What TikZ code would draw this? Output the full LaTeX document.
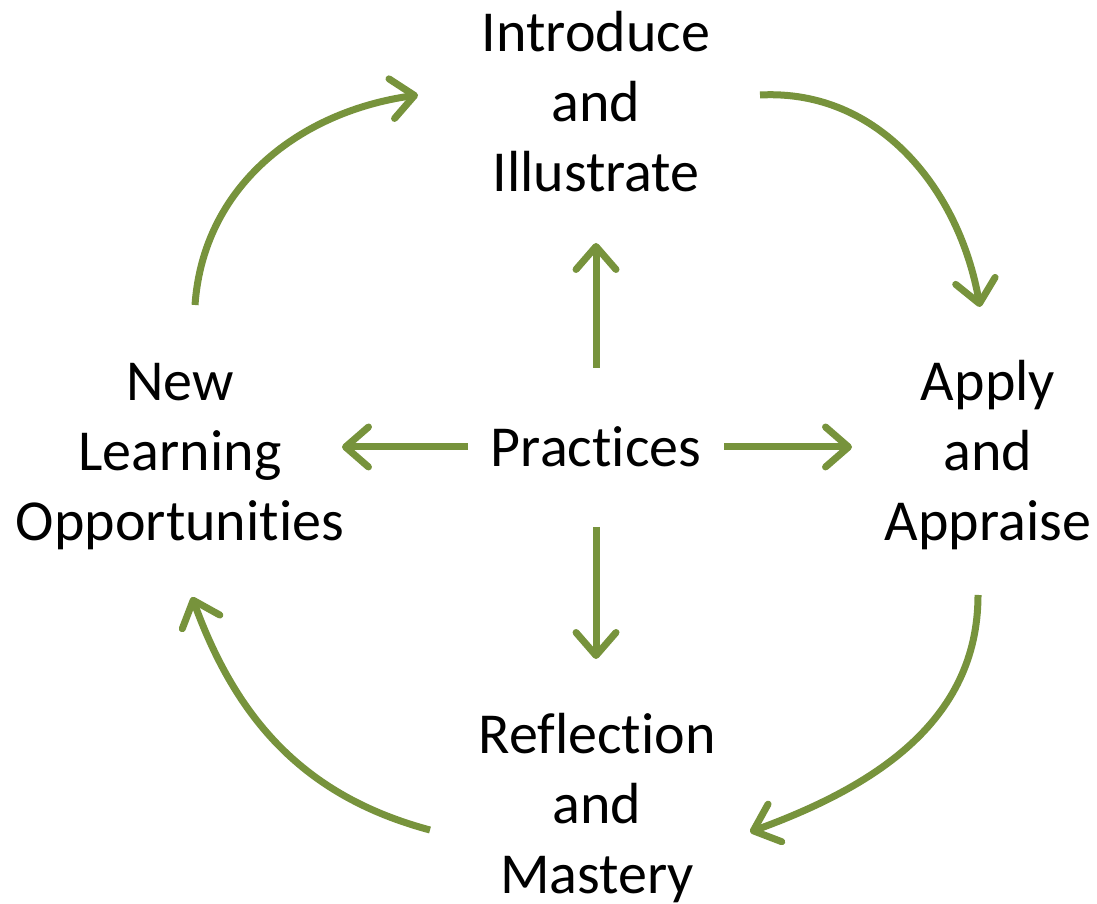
\documentclass[tikz,border=0pt]{standalone}
\usepackage{fontspec}
\setmainfont[Ligatures={NoCommon}]{Carlito}
\usetikzlibrary{arrows.meta}
\definecolor{olive}{HTML}{77933C}
\begin{document}
\begin{tikzpicture}[x=1pt,y=1pt,
  lbl/.style={align=center,font=\fontsize{58}{70}\selectfont,inner sep=0pt},
  flow/.style={draw=olive,line width=7pt,-{Straight Barb[length=23pt,width=40pt,round]}}]
\useasboundingbox (0,0) rectangle (1097,904);
\node[lbl] (intro) at (596,802) {Introduce\\and\\Illustrate};
\node[lbl] (prac) at (596,457) {Practices};
\node[lbl] (newl) at (180,447) {New\\Learning\\Opportunities};
\node[lbl] (apply) at (988,449) {Apply\\and\\Appraise};
\node[lbl] (refl) at (597,96) {Reflection\\and\\Mastery};
% straight arrows
\draw[flow,shorten <=79pt,shorten >=141pt] (prac.center) -- (prac.center |- intro.center);
\draw[flow,shorten <=80pt,shorten >=149pt] (prac.center) -- (prac.center |- refl.center);
\draw[flow,shorten <=128pt,shorten >=162pt] (prac.center) -- (prac.center -| newl.center);
\draw[flow,shorten <=128pt,shorten >=136pt] (prac.center) -- (prac.center -| apply.center);
% curved arrows
\coordinate (c1s) at (195,599);
\coordinate (c1e) at (418,809);
\coordinate (c2s) at (760,809);
\coordinate (c2e) at (980,597);
\coordinate (c3s) at (978,309);
\coordinate (c3e) at (750,72);
\coordinate (c4s) at (430,74);
\coordinate (c4e) at (192,307);
\draw[flow] (c1s) to[out=86,in=188] (c1e);
\draw[flow] (c2s) to[out=3,in=100] (c2e);
\draw[flow] (c3s) to[out=-90,in=20] (c3e);
\draw[flow] (c4s) to[out=165,in=-70] (c4e);
\end{tikzpicture}
\end{document}
